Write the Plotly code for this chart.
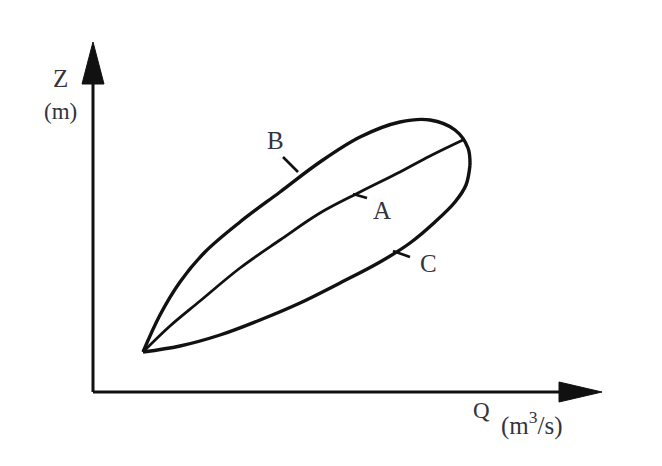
import plotly.graph_objects as go

# Values in arbitrary units measured from the axis origin (Q to the right, Z upward)
# Curve B (rising limb, upper branch of the loop)
b_q = [50, 67, 87, 112, 147, 187, 227, 267, 307, 337, 362, 375, 377]
b_z = [40, 77, 110, 140, 170, 200, 230, 255, 270, 272, 262, 244, 227]
# Curve C (falling limb, lower branch of the loop)
c_q = [377, 373, 362, 342, 317, 287, 247, 207, 167, 127, 87, 50]
c_z = [227, 207, 190, 170, 149, 130, 109, 89, 72, 57, 46, 40]
# Curve A (steady-flow rating curve)
a_q = [50, 77, 107, 147, 187, 227, 267, 307, 337, 372]
a_z = [40, 66, 91, 124, 152, 179, 200, 220, 236, 253]

labels = ["B", "A", "C"]
label_q = [182, 289, 335]
label_z = [252, 182, 129]
leader_q0 = [190, 260, 300]
leader_z0 = [235, 198, 141]
leader_q1 = [205, 274, 317]
leader_z1 = [220, 194, 135]

INK = "#111111"
TXT = "#33333d"
SERIF = "Liberation Serif"

fig = go.Figure()
for q, z, w in [(b_q, b_z, 3.4), (c_q, c_z, 3.4), (a_q, a_z, 2.8)]:
    fig.add_trace(go.Scatter(x=q, y=z, mode="lines",
                             line=dict(color=INK, width=w, shape="spline", smoothing=1.0),
                             hoverinfo="skip", showlegend=False))

# axes with arrowheads
fig.add_shape(type="line", x0=0, y0=0, x1=0, y1=312, line=dict(color=INK, width=3))
fig.add_shape(type="line", x0=0, y0=0, x1=470, y1=0, line=dict(color=INK, width=3))
fig.add_shape(type="path", path="M -11,308 L 11,308 L 0,350 Z", fillcolor=INK, line=dict(color=INK, width=1))
fig.add_shape(type="path", path="M 466,-10 L 466,10 L 509,0 Z", fillcolor=INK, line=dict(color=INK, width=1))

for i, t in enumerate(labels):
    fig.add_shape(type="line", x0=leader_q0[i], y0=leader_z0[i], x1=leader_q1[i], y1=leader_z1[i],
                  line=dict(color=INK, width=2.6))
    fig.add_annotation(x=label_q[i], y=label_z[i], text=t, showarrow=False,
                       font=dict(family=SERIF, size=25, color=TXT))

fig.add_annotation(x=-33, y=314, text="Z", showarrow=False, font=dict(family=SERIF, size=25, color=TXT))
fig.add_annotation(x=-33, y=281, text="(m)", showarrow=False, font=dict(family=SERIF, size=23, color=TXT))
fig.add_annotation(x=388, y=-18, text="Q", showarrow=False, font=dict(family=SERIF, size=23, color=TXT))
fig.add_annotation(x=439, y=-31, text="(m<sup>3</sup>/s)", showarrow=False,
                   font=dict(family=SERIF, size=25, color=TXT))

fig.update_layout(width=646, height=450, margin=dict(l=0, r=0, t=0, b=0),
                  paper_bgcolor="white", plot_bgcolor="white",
                  xaxis=dict(range=[-85, 561], visible=False, fixedrange=True),
                  yaxis=dict(range=[-66, 384], visible=False, fixedrange=True))
fig.write_html("out.html")
